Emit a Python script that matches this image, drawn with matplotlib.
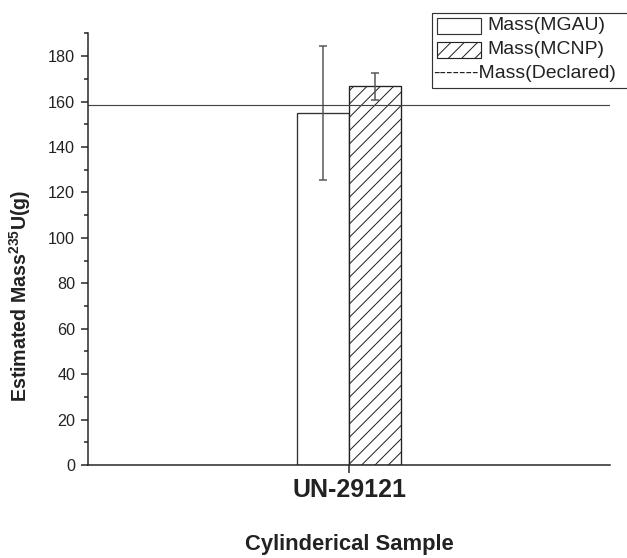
import numpy as np
import matplotlib
matplotlib.use('Agg')
import matplotlib.pyplot as plt
import matplotlib.patches as mpatches

# data
samples = ['UN-29121']
mass_mgau = [155.0]
err_mgau = [29.5]
mass_mcnp = [166.7]
err_mcnp = [6.0]
mass_declared = 158.7

plt.rcParams['font.family'] = ['Liberation Sans', 'DejaVu Sans']
plt.rcParams['mathtext.fontset'] = 'custom'
plt.rcParams['mathtext.rm'] = 'Liberation Sans'
plt.rcParams['mathtext.bf'] = 'Liberation Sans:bold'
plt.rcParams['hatch.linewidth'] = 0.6
plt.rcParams['hatch.color'] = '#222222'

W, H, DPI = 627, 558, 120
fig = plt.figure(figsize=(W / DPI, H / DPI), dpi=DPI)
ax = fig.add_axes([88 / W, 1 - 465 / H, (610 - 88) / W, (465 - 33.4) / H])

x = np.arange(len(samples))
width = 0.2
ax.bar(x - width / 2, mass_mgau, width, color='white', edgecolor='#333333', linewidth=0.8)
ax.bar(x + width / 2, mass_mcnp, width, color='white', edgecolor='#222222', linewidth=0.8, hatch='///')
ax.errorbar(x - width / 2, mass_mgau, yerr=err_mgau, fmt='none', ecolor='#555555',
            elinewidth=0.9, capsize=2.6, capthick=0.9)
ax.errorbar(x + width / 2, mass_mcnp, yerr=err_mcnp, fmt='none', ecolor='#555555',
            elinewidth=0.9, capsize=2.6, capthick=0.9)
ax.axhline(mass_declared, color='#444444', linewidth=0.7)

ax.set_xlim(-1, 1)
ax.set_ylim(0, 190)
ax.set_xticks(x)
ax.set_xticklabels(samples, fontsize=15, fontweight='bold', color='#222222')
ax.set_yticks(np.arange(0, 181, 20))
ax.set_yticks(np.arange(10, 191, 20), minor=True)
ax.tick_params(axis='y', which='major', length=4.2, width=0.9, labelsize=9.7, colors='#222222')
ax.tick_params(axis='y', which='minor', length=2.4, width=0.9, colors='#222222')
ax.tick_params(axis='x', which='major', length=5, width=0.9, pad=3, colors='#222222')

for s in ['top', 'right']:
    ax.spines[s].set_visible(False)
for s in ['left', 'bottom']:
    ax.spines[s].set_linewidth(0.9)
    ax.spines[s].set_color('#222222')

ax.set_ylabel(r'Estimated Mass$^{\mathbf{235}}$U(g)', fontsize=11.8, fontweight='bold', color='#222222')
ax.yaxis.set_label_coords((33 - 88) / 522, (465 - 296) / 431.6)
ax.set_xlabel('Cylinderical Sample', fontsize=13.2, fontweight='bold', color='#222222', labelpad=19)

# legend drawn by hand to copy the original layout
def fx(px):
    return px / W

def fy(py):
    return 1 - py / H

fig.add_artist(mpatches.Rectangle((fx(432), fy(88)), fx(640) - fx(432), fy(12.7) - fy(88),
                                  transform=fig.transFigure, facecolor='white',
                                  edgecolor='#333333', linewidth=0.7))
fig.add_artist(mpatches.Rectangle((fx(437), fy(34)), fx(481) - fx(437), fy(18) - fy(34),
                                  transform=fig.transFigure, facecolor='white',
                                  edgecolor='#333333', linewidth=0.7))
fig.add_artist(mpatches.Rectangle((fx(437), fy(58)), fx(481) - fx(437), fy(42) - fy(58),
                                  transform=fig.transFigure, facecolor='white',
                                  edgecolor='#222222', linewidth=0.7, hatch='///'))
fig.text(fx(487), fy(26), 'Mass(MGAU)', fontsize=11.6, va='center', color='#222222')
fig.text(fx(487), fy(50), 'Mass(MCNP)', fontsize=11.6, va='center', color='#222222')
fig.text(fx(433), fy(74), '-------Mass(Declared)', fontsize=11.6, va='center', color='#222222')

fig.savefig('out.png', dpi=DPI)
